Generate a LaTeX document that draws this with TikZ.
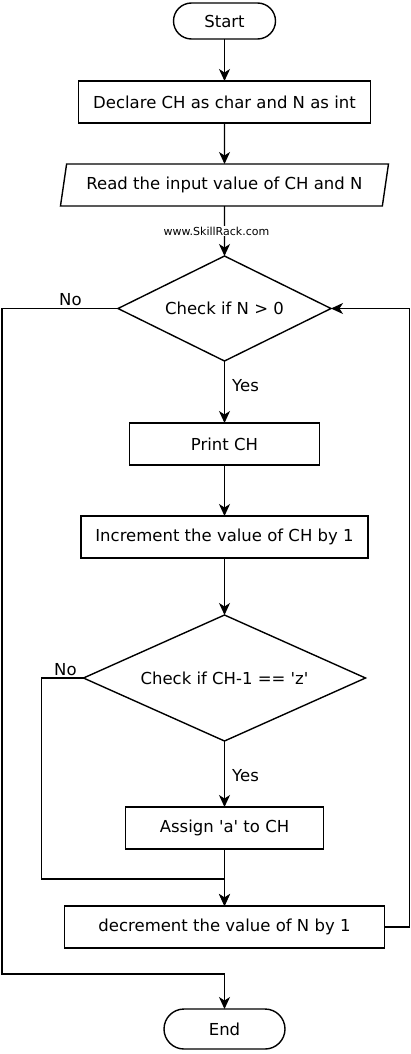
\documentclass[tikz,border=0pt]{standalone}
\usepackage{fontspec}
\setmainfont{DejaVu Sans}[Ligatures=TeXOff]
\usetikzlibrary{arrows.meta, positioning, shapes.geometric, calc}

\begin{document}
\begin{tikzpicture}[
  x=1pt, y=-1pt,
  line width=1.4pt,
  font=\fontsize{16.5}{20}\selectfont,
  >={Stealth[length=12pt, width=11pt, inset=3.5pt]},
  box/.style={rectangle, draw, inner sep=0pt, outer sep=0pt, minimum height=42pt},
  terminal/.style={rectangle, draw, rounded corners=18pt, inner sep=0pt, outer sep=0pt, minimum height=36pt},
  decision/.style={diamond, draw, aspect=2.2, inner sep=0pt, outer sep=0pt},
  io/.style={trapezium, draw, trapezium left angle=69, trapezium right angle=111, trapezium stretches body, inner sep=0pt, outer sep=0pt, minimum height=42pt},
  lbl/.style={inner sep=2pt},
  yeslbl/.style={lbl, right, xshift=5pt},
  wmark/.style={font=\fontsize{11}{13}\selectfont, fill=white, inner sep=0.5pt}
]
\useasboundingbox (0,0) rectangle (411,1054);

% Main column
\node[terminal, minimum width=102pt] (start) at (224.5,21) {Start};
\node[box, minimum width=292pt, below=42pt of start] (declare) {Declare CH as char and N as int};
\node[io, minimum width=328pt, below=41pt of declare] (read) {Read the input value of CH and N};
\node[decision, minimum width=213pt, minimum height=105pt, below=50pt of read] (check1) {Check if N > 0};
\node[box, minimum width=190pt, below=62pt of check1] (print) {Print CH};
\node[box, minimum width=287pt, below=51pt of print] (incr) {Increment the value of CH by 1};
\node[decision, minimum width=282pt, minimum height=126pt, below=57pt of incr] (check2) {Check if CH-1 == 'z'};
\node[box, minimum width=198pt, below=66pt of check2] (assign) {Assign 'a' to CH};
\node[box, minimum width=320pt, below=57pt of assign] (decr) {decrement the value of N by 1};
\node[terminal, minimum width=121pt, minimum height=40pt, rounded corners=20pt, below=61pt of decr] (end) {End};

% Arrows
\draw[->] (start) -- (declare);
\draw[->] (declare) -- (read);
\draw[->] (read) -- (check1);
\node[wmark, xshift=-8pt] (site) at ($(read.south)!0.5!(check1.north)$) {www.SkillRack.com};
\draw[->] (check1) -- node[yeslbl, pos=0.4] {Yes} (print);
\draw[->] (print) -- (incr);
\draw[->] (incr) -- (check2);
\draw[->] (check2) -- node[yeslbl, pos=0.52] {Yes} (assign);
\draw[->] (assign) -- (decr);

% Loops
\draw[->] (check2.west) -- node[lbl, above, pos=0.43] {No} ++(-42,0) |- ([yshift=27pt]decr.north) -- (decr.north);
\draw[->] (check1.west) -- node[lbl, above, pos=0.41] {No} ++(-116,0) |- ([yshift=35pt]end.north) -- (end.north);
\draw[->] (decr.east) -- ++(25,0) |- (check1.east);

\end{tikzpicture}
\end{document}
